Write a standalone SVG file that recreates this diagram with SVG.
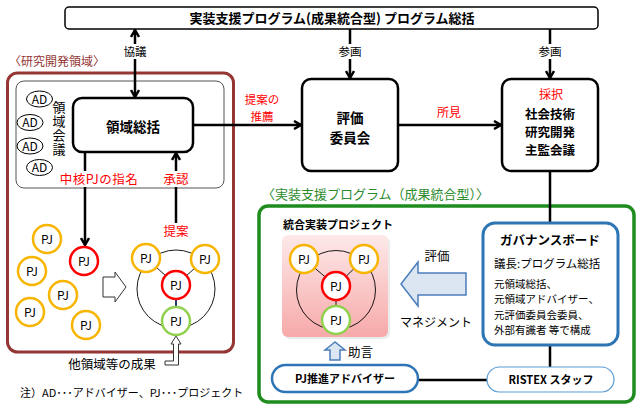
<svg xmlns="http://www.w3.org/2000/svg" width="640" height="410" viewBox="0 0 640 410">
<style>
text{font-family:"Noto Sans CJK JP","Noto Sans",sans-serif;fill:#000}
.b{font-weight:bold}
.red{fill:#ff0000}
.box{fill:#fff;stroke:#000;stroke-width:2.5}
.conn{stroke:#000;stroke-width:2.5;fill:none}
.thin{stroke:#000;stroke-width:0.9;fill:none}
.pjy{fill:#fff;stroke:#f7b500;stroke-width:2.5}
.pjr{fill:#fff;stroke:#ff0000;stroke-width:2.5}
.pjg{fill:#fff;stroke:#92d050;stroke-width:2.5}
.pj{font-size:12px;text-anchor:middle}
.ad{fill:#fff;stroke:#000;stroke-width:1}
.bg{fill:#fff}
.blue{fill:#dce6f2;stroke:#4a7ebb;stroke-width:1.5}
.hollow{fill:#fff;stroke:#333;stroke-width:1}
.m{text-anchor:middle}
</style>
<defs>
<marker id="ah" viewBox="0 0 10 10" refX="8.5" refY="5" markerWidth="10" markerHeight="10" markerUnits="userSpaceOnUse" orient="auto-start-reverse">
<path d="M1.5,1 L8.5,5 L1.5,9" fill="none" stroke="#000" stroke-width="2.5"/>
</marker>
<linearGradient id="pink" x1="0" y1="0" x2="0" y2="1">
<stop offset="0" stop-color="#fde9e9"/>
<stop offset="1" stop-color="#f7a9a9"/>
</linearGradient>
</defs>
<rect width="640" height="410" fill="#fff"/>

<!-- region frames -->
<g id="region-research">
<rect x="7.5" y="73" width="226" height="279" rx="10" fill="none" stroke="#943634" stroke-width="3"/>
<text x="9" y="66" font-size="12" style="fill:#943634">〈研究開発領域〉</text>
</g>
<g id="region-council">
<rect x="16" y="81" width="208" height="107" rx="8" fill="none" stroke="#555" stroke-width="1"/>
<text x="59" y="101" font-size="13" style="writing-mode:vertical-rl;letter-spacing:1px">領域会議</text>
</g>
<g id="region-program">
<rect x="259" y="206" width="375" height="196" rx="9" fill="none" stroke="#1e8c1e" stroke-width="3.5"/>
<text x="262" y="198.5" font-size="13" style="fill:#2e8b2e">〈実装支援プログラム（成果統合型）〉</text>
</g>

<!-- connectors -->
<g id="connectors">
<line class="conn" x1="135" y1="30" x2="135" y2="97" marker-start="url(#ah)" marker-end="url(#ah)"/>
<line class="conn" x1="350" y1="29" x2="350" y2="78" marker-end="url(#ah)"/>
<line class="conn" x1="550" y1="29" x2="550" y2="78" marker-end="url(#ah)"/>
<line class="conn" x1="193" y1="125" x2="301" y2="125" marker-end="url(#ah)"/>
<line class="conn" x1="398" y1="125" x2="501" y2="125" marker-end="url(#ah)"/>
<line class="conn" x1="85" y1="152" x2="85" y2="245" marker-end="url(#ah)"/>
<line class="conn" x1="176" y1="225" x2="176" y2="153" marker-end="url(#ah)"/>
<line class="conn" x1="550" y1="171" x2="550" y2="223"/>
<line class="conn" x1="550" y1="345" x2="550" y2="367"/>
<line class="conn" x1="418" y1="380" x2="487" y2="380"/>
<polygon class="hollow" points="103,277 115,277 115,272 126,287 115,302 115,297 103,297"/>
<polygon class="hollow" points="165,361 173.5,361 173.5,344 171,344 176,336 181,344 178.5,344 178.5,365 165,365"/>
<polygon class="blue" points="401,284 418,262 418,273 466,273 466,295 418,295 418,306"/>
<polygon class="blue" points="335,342 325,350 330,350 330,360 340,360 340,350 345,350"/>
<rect class="bg" x="122" y="44" width="26" height="15"/>
<text x="135" y="56" font-size="11.5" class="m">協議</text>
<rect class="bg" x="337" y="44" width="26" height="15"/>
<text x="350" y="56" font-size="11.5" class="m">参画</text>
<rect class="bg" x="537" y="44" width="26" height="15"/>
<text x="550" y="56" font-size="11.5" class="m">参画</text>
<text x="262" y="103.5" font-size="11.5" class="m red">提案の<tspan x="262" dy="17">推薦</tspan></text>
<text x="449" y="117" font-size="12" class="m red">所見</text>
<rect class="bg" x="61" y="171" width="76" height="16"/>
<text x="99" y="184" font-size="12.5" class="m red" style="letter-spacing:0.5px">中核PJの指名</text>
<rect class="bg" x="163" y="171" width="26" height="16"/>
<text x="176" y="184" font-size="12.5" class="m red">承認</text>
<rect class="bg" x="163" y="223" width="26" height="16"/>
<text x="176" y="236" font-size="12.5" class="m red">提案</text>
<text x="437" y="261" font-size="12.5" class="m">評価</text>
<text x="436" y="327" font-size="12" class="m">マネジメント</text>
<text x="348" y="357" font-size="12.5">助言</text>
<text x="112" y="369" font-size="12.5" class="m">他領域等の成果</text>
</g>

<!-- nodes -->
<g id="program-director">
<rect x="65" y="7" width="533" height="22" rx="4" fill="#fff" stroke="#000" stroke-width="1.5"/>
<text x="332" y="23" font-size="13" class="m b">実装支援プログラム(成果統合型) プログラム総括</text>
</g>
<g id="ad-advisers">
<ellipse class="ad" cx="39.5" cy="99" rx="13" ry="8"/>
<text x="39.5" y="103.5" font-size="12" class="m">AD</text>
<ellipse class="ad" cx="30" cy="122.5" rx="13" ry="8"/>
<text x="30" y="127" font-size="12" class="m">AD</text>
<ellipse class="ad" cx="30" cy="146" rx="13" ry="8"/>
<text x="30" y="150.5" font-size="12" class="m">AD</text>
<ellipse class="ad" cx="39.5" cy="167.5" rx="13" ry="8"/>
<text x="39.5" y="172" font-size="12" class="m">AD</text>
</g>
<g id="area-director">
<rect class="box" x="73" y="98" width="120" height="54" rx="9"/>
<text x="133" y="132" font-size="13.5" class="m b">領域総括</text>
</g>
<g id="evaluation-committee">
<rect class="box" x="302" y="79" width="96" height="92" rx="9"/>
<text x="350" y="123" font-size="13.5" class="m b">評価<tspan x="350" dy="19.5">委員会</tspan></text>
</g>
<g id="steering-council">
<rect class="box" x="502" y="79" width="96" height="92" rx="9"/>
<text x="551" y="99" font-size="12" class="m red">採択</text>
<text x="550" y="119" font-size="12.5" class="m b">社会技術<tspan x="550" dy="18.2">研究開発</tspan><tspan x="550" dy="18.2">主監会議</tspan></text>
</g>
<g id="pj-scattered">
<circle class="pjy" cx="47" cy="239" r="14"/><text x="47" y="243.5" class="pj">PJ</text>
<circle class="pjy" cx="32" cy="271" r="14"/><text x="32" y="275.5" class="pj">PJ</text>
<circle class="pjy" cx="63" cy="295" r="14"/><text x="63" y="299.5" class="pj">PJ</text>
<circle class="pjy" cx="30" cy="312" r="14"/><text x="30" y="316.5" class="pj">PJ</text>
<circle class="pjy" cx="86" cy="325" r="14"/><text x="86" y="329.5" class="pj">PJ</text>
<circle class="pjr" cx="84" cy="261" r="14"/><text x="84" y="265.5" class="pj">PJ</text>
</g>
<g id="pj-cluster">
<circle class="thin" cx="176" cy="289" r="39"/>
<line class="thin" x1="146" y1="258" x2="176" y2="285"/>
<line class="thin" x1="205" y1="259" x2="176" y2="285"/>
<line x1="176" y1="285" x2="176" y2="321" stroke="#1f3f6f" stroke-width="2"/>
<circle class="pjy" cx="146" cy="258" r="14"/><text x="146" y="262.5" class="pj">PJ</text>
<circle class="pjy" cx="205" cy="259" r="14"/><text x="205" y="263.5" class="pj">PJ</text>
<circle class="pjr" cx="176" cy="285" r="14"/><text x="176" y="289.5" class="pj">PJ</text>
<circle class="pjg" cx="176" cy="321" r="14"/><text x="176" y="325.5" class="pj">PJ</text>
</g>
<g id="integrated-project">
<text x="283" y="229" font-size="11" class="b">統合実装プロジェクト</text>
<rect x="284" y="237" width="106" height="102" rx="6" fill="#000" opacity="0.08"/>
<rect x="282" y="235" width="106" height="102" rx="6" fill="url(#pink)"/>
<circle class="thin" cx="336" cy="290" r="39.5"/>
<line class="thin" x1="304" y1="259" x2="336" y2="286"/>
<line class="thin" x1="364" y1="259" x2="336" y2="286"/>
<line class="thin" x1="336" y1="286" x2="336" y2="320"/>
<circle class="pjy" cx="304" cy="259" r="14"/><text x="304" y="263.5" class="pj">PJ</text>
<circle class="pjy" cx="364" cy="259" r="14"/><text x="364" y="263.5" class="pj">PJ</text>
<circle class="pjr" cx="336" cy="286" r="14"/><text x="336" y="290.5" class="pj">PJ</text>
<circle class="pjg" cx="336" cy="320" r="14"/><text x="336" y="324.5" class="pj">PJ</text>
</g>
<g id="governance-board">
<rect x="483" y="223" width="135" height="122" rx="12" fill="#fff" stroke="#2e75b6" stroke-width="3"/>
<text x="550" y="245" font-size="12.5" class="m b">ガバナンスボード</text>
<text x="494" y="268" font-size="11.5">議長:プログラム総括</text>
<text x="494" y="288" font-size="10.5">元領域総括、<tspan x="494" dy="15.4">元領域アドバイザー、</tspan><tspan x="494" dy="15.4">元評価委員会委員、</tspan><tspan x="494" dy="15.4">外部有識者 等で構成</tspan></text>
</g>
<g id="pj-adviser">
<rect x="272" y="365" width="146" height="27" rx="13.5" fill="#fff" stroke="#2e75b6" stroke-width="2.5"/>
<text x="345" y="383" font-size="11" class="m b">PJ推進アドバイザー</text>
</g>
<g id="ristex-staff">
<rect x="487" y="367" width="127" height="25" rx="12.5" fill="#fff" stroke="#5b9bd5" stroke-width="1.2"/>
<text x="551" y="384" font-size="11" class="m b">RISTEX スタッフ</text>
</g>
<g id="note">
<text x="20" y="397" font-size="11">注）AD･･･アドバイザー、PJ･･･プロジェクト</text>
</g>
</svg>
